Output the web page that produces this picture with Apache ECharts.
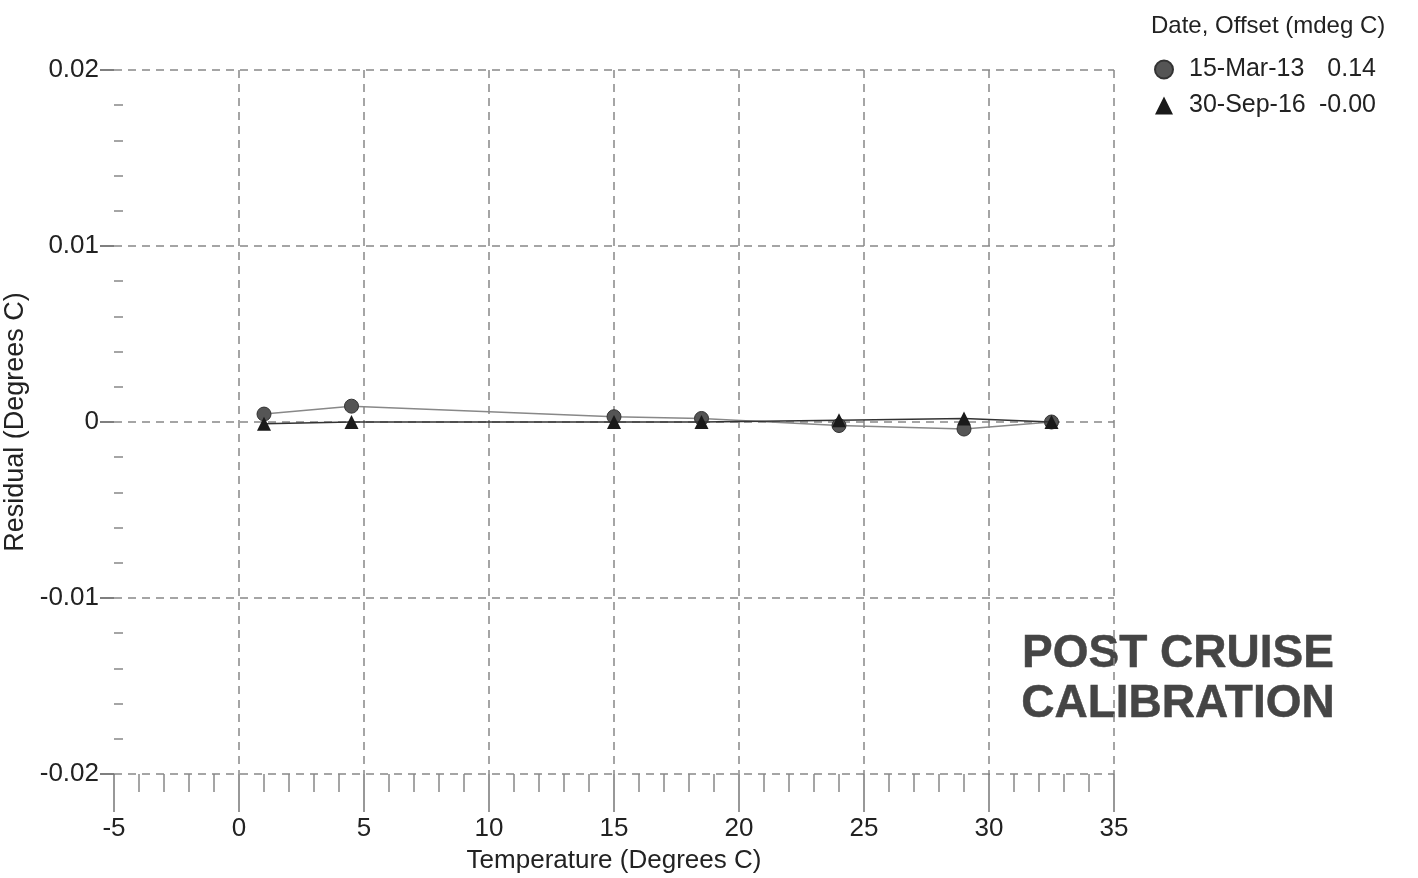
<!DOCTYPE html>
<html>
<head>
<meta charset="utf-8">
<script src="https://cdn.jsdelivr.net/npm/echarts@6/dist/echarts.min.js"></script>
<style>
  html, body { margin: 0; padding: 0; background: #fff; }
  #chart { width: 1418px; height: 878px; }
</style>
</head>
<body>
<div id="chart"></div>
<script>
// 温度点 (Degrees C)
var temps = [1.0, 4.5, 15.0, 18.5, 24.0, 29.0, 32.5];
// residuals, 15-Mar-13 (circles)
var resMar13 = [0.00045, 0.0009, 0.0003, 0.0002, -0.0002, -0.0004, 0.0];
// residuals, 30-Sep-16 (triangles)
var resSep16 = [-0.0001, 0.0, 0.0, 0.0, 0.0001, 0.0002, 0.0];
var seriesNames = ['15-Mar-13', '30-Sep-16'];
var offsets = ['0.14', '-0.00'];

var font = '"Liberation Sans Narrow", "Liberation Sans", Arial, sans-serif';

function pairs(xs, ys) {
    return xs.map(function (x, i) { return [x, ys[i]]; });
}

var myChart = echarts.init(document.getElementById('chart'));
myChart.setOption({
    backgroundColor: '#fff',
    animation: false,
    title: {
        text: 'Date, Offset (mdeg C)',
        left: 1146,
        top: 9,
        textStyle: { fontFamily: font, fontSize: 24, fontWeight: 'normal', color: '#222' }
    },
    legend: {
        orient: 'vertical',
        left: 1149,
        top: 52,
        itemGap: 11,
        itemWidth: 18,
        itemHeight: 18,
        data: [
            { name: seriesNames[0], icon: 'circle' },
            { name: seriesNames[1], icon: 'triangle' }
        ],
        formatter: function (name) {
            var i = seriesNames.indexOf(name);
            return '{n|' + name + '}{v|' + offsets[i] + '}';
        },
        textStyle: {
            fontFamily: font,
            fontSize: 25,
            color: '#222',
            rich: {
                n: { fontFamily: font, fontSize: 25, color: '#222', width: 130, padding: [0, 0, 0, 11] },
                v: { fontFamily: font, fontSize: 25, color: '#222', width: 57, align: 'right' }
            }
        }
    },
    grid: { left: 114, right: 304, top: 70, bottom: 104, outerBoundsMode: 'none' },
    xAxis: {
        type: 'value',
        min: -5,
        max: 35,
        interval: 5,
        name: 'Temperature (Degrees C)',
        nameLocation: 'middle',
        nameGap: 74,
        nameTextStyle: { fontFamily: font, fontSize: 26, color: '#222' },
        axisLine: { show: false, onZero: false },
        axisTick: { show: true, length: 38, lineStyle: { color: '#777', width: 1.5 } },
        minorTick: { show: true, splitNumber: 5, length: 18, lineStyle: { color: '#888', width: 1.5 } },
        axisLabel: { margin: 42, fontFamily: font, fontSize: 26, color: '#222' },
        splitLine: {
            show: true,
            showMinLine: false,
            lineStyle: { color: '#888', width: 1.5, type: [8, 6] }
        }
    },
    yAxis: [
        {
            type: 'value',
            min: -0.02,
            max: 0.02,
            interval: 0.01,
            name: 'Residual (Degrees C)',
            nameLocation: 'middle',
            nameGap: 72,
            nameTextStyle: { fontFamily: font, fontSize: 27, color: '#222' },
            axisLine: { show: false, onZero: false },
            axisTick: { show: true, length: 14, lineStyle: { color: '#555', width: 1.5 } },
            axisLabel: {
                margin: 15,
                fontFamily: font,
                fontSize: 26,
                color: '#222',
                formatter: function (v) { return v === 0 ? '0' : v.toFixed(2); }
            },
            splitLine: { show: true, lineStyle: { color: '#888', width: 1.5, type: [8, 6] } }
        },
        {
            // 次刻度，朝内
            type: 'value',
            min: -0.02,
            max: 0.02,
            interval: 0.01,
            position: 'left',
            axisLine: { show: false, onZero: false },
            axisTick: { show: false, inside: true },
            minorTick: { show: true, splitNumber: 5, length: 9, lineStyle: { color: '#888', width: 1.5 } },
            axisLabel: { show: false },
            splitLine: { show: false }
        }
    ],
    series: [
        {
            name: seriesNames[0],
            type: 'line',
            data: pairs(temps, resMar13),
            symbol: 'circle',
            symbolSize: 14,
            itemStyle: { color: '#555', borderColor: '#333', borderWidth: 1 },
            lineStyle: { color: '#888', width: 1.5 },
            z: 3
        },
        {
            name: seriesNames[1],
            type: 'line',
            data: pairs(temps, resSep16),
            symbol: 'triangle',
            symbolSize: 14,
            itemStyle: { color: '#1a1a1a' },
            lineStyle: { color: '#333', width: 1.5 },
            z: 4
        }
    ],
    graphic: [
        {
            type: 'text',
            x: 1178,
            y: 629,
            style: {
                text: 'POST CRUISE\nCALIBRATION',
                fontFamily: '"Liberation Sans", Arial, sans-serif',
                fontWeight: 'bold',
                fontSize: 46,
                lineHeight: 50,
                align: 'center',
                fill: '#454545',
                stroke: '#454545',
                lineWidth: 0.5
            }
        }
    ]
});
</script>
</body>
</html>
